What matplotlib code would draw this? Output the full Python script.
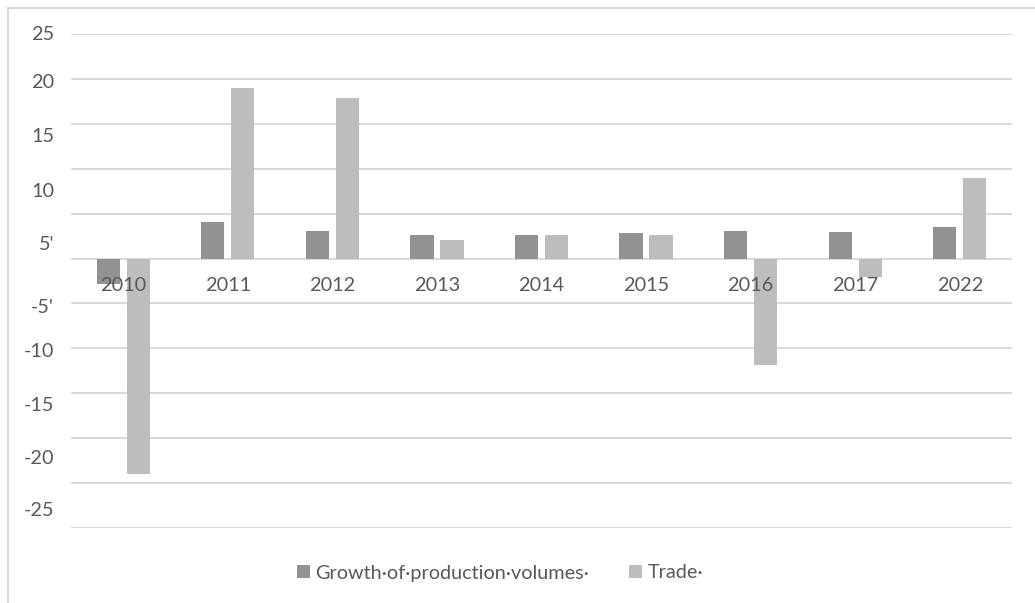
import numpy as np
import matplotlib.pyplot as plt
from matplotlib.lines import Line2D

plt.rcParams['font.family'] = ['Lato', 'DejaVu Sans']

years = ['2010', '2011', '2012', '2013', '2014', '2015', '2016', '2017', '2022']
growth = [-2.8, 4.05, 3.1, 2.6, 2.6, 2.8, 3.1, 2.95, 3.5]
trade = [-24.0, 19.0, 17.9, 2.05, 2.6, 2.6, -11.9, -2.0, 9.0]

ytick_text = ['25', '20', '15', '10', "5'", "-5'", '-10', '-15', '-20', '-25']
# the value labels sit in their own column, slightly off the gridlines
ytick_at = [25.0, 19.6, 13.6, 7.5, 1.55, -5.4, -10.3, -16.4, -22.3, -28.1]

dark = '#929292'
light = '#bdbdbd'
txt = '#595959'
grid = '#d9d9d9'
fs = 14.3

fig = plt.figure(figsize=(10.35, 6.03), dpi=100)
ax = fig.add_axes([71/1035, 1 - 528/603, (1012 - 71)/1035, (528 - 34)/603])

x = np.arange(len(years))
w = 0.223
off = 0.1435
ax.bar(x - off, growth, w, color=dark, zorder=2, label='Growth·of·production·volumes·')
ax.bar(x + off, trade, w, color=light, zorder=2, label='Trade·')

ax.set_xlim(-0.5, len(years) - 0.5)
ax.set_ylim(-30, 25)
ax.set_yticks(np.arange(-30, 26, 5))
ax.yaxis.grid(True, color=grid, linewidth=1.5, zorder=0)
ax.set_axisbelow(True)
ax.tick_params(left=False, bottom=False, labelleft=False, labelbottom=False)
for s in ax.spines.values():
    s.set_visible(False)

# year labels just under the zero line
for i, yr in enumerate(years):
    ax.annotate(yr, (i, 0), xytext=(0, -26.5), textcoords='offset pixels',
                ha='center', va='center', fontsize=fs, color=txt, zorder=3)

for lab, yv in zip(ytick_text, ytick_at):
    ax.annotate(lab, (-0.5, yv), xytext=(-17, 0), textcoords='offset pixels',
                ha='right', va='center', fontsize=fs, color=txt,
                annotation_clip=False)

ax.legend(loc='center', bbox_to_anchor=(500/1035, 1 - 573/603),
          bbox_transform=fig.transFigure, ncol=2, frameon=False,
          handlelength=0.68, handleheight=0.68, handletextpad=0.25,
          columnspacing=2.0, fontsize=fs, labelcolor=txt)

# chart frame: only the top and left edges show
fig.add_artist(Line2D([8/1035, 1], [1 - 8/603, 1 - 8/603], color=grid, linewidth=1.5))
fig.add_artist(Line2D([8/1035, 8/1035], [0, 1 - 8/603], color=grid, linewidth=1.5))

fig.savefig('out.png', dpi=100)
